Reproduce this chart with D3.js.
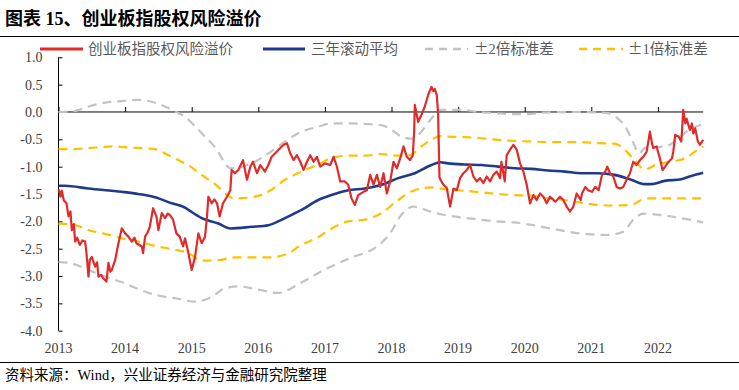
<!DOCTYPE html>
<html><head><meta charset="utf-8">
<script src="https://cdn.jsdelivr.net/npm/d3@7/dist/d3.min.js"></script>
<style>
html,body{margin:0;padding:0;background:#fff;}
svg{display:block;}
</style></head>
<body><svg id="c" width="739" height="390"></svg>
<script>
// ---- data (decimal year, value) ----
const yearTicks = [2013,2014,2015,2016,2017,2018,2019,2020,2021,2022];
const yTicks = [1.0,0.5,0.0,-0.5,-1.0,-1.5,-2.0,-2.5,-3.0,-3.5,-4.0];

const premiumT = [2013.00,2013.01,2013.03,2013.05,2013.08,2013.12,2013.15,2013.18,2013.20,2013.23,2013.25,2013.28,2013.32,2013.36,2013.40,2013.42,2013.45,2013.47,2013.50,2013.55,2013.58,2013.60,2013.64,2013.67,2013.72,2013.75,2013.78,2013.80,2013.85,2013.90,2013.95,2014.00,2014.05,2014.10,2014.14,2014.17,2014.25,2014.27,2014.30,2014.34,2014.37,2014.40,2014.42,2014.45,2014.47,2014.50,2014.55,2014.60,2014.64,2014.67,2014.72,2014.77,2014.82,2014.87,2014.90,2014.95,2015.00,2015.05,2015.10,2015.15,2015.20,2015.23,2015.25,2015.30,2015.34,2015.38,2015.42,2015.47,2015.53,2015.58,2015.60,2015.65,2015.70,2015.77,2015.83,2015.88,2015.92,2015.98,2016.03,2016.10,2016.15,2016.20,2016.25,2016.33,2016.38,2016.43,2016.48,2016.53,2016.58,2016.63,2016.68,2016.73,2016.78,2016.83,2016.88,2016.93,2017.00,2017.08,2017.13,2017.18,2017.23,2017.30,2017.35,2017.40,2017.45,2017.50,2017.58,2017.63,2017.68,2017.73,2017.78,2017.83,2017.88,2017.93,2017.98,2018.03,2018.08,2018.13,2018.18,2018.23,2018.28,2018.32,2018.34,2018.35,2018.40,2018.45,2018.50,2018.55,2018.60,2018.63,2018.65,2018.68,2018.70,2018.72,2018.75,2018.78,2018.83,2018.88,2018.93,2018.98,2019.03,2019.08,2019.13,2019.18,2019.23,2019.28,2019.33,2019.38,2019.43,2019.48,2019.53,2019.58,2019.63,2019.65,2019.70,2019.73,2019.78,2019.83,2019.88,2019.93,2019.98,2020.03,2020.08,2020.13,2020.18,2020.23,2020.28,2020.33,2020.38,2020.46,2020.53,2020.58,2020.63,2020.68,2020.73,2020.78,2020.81,2020.84,2020.86,2020.91,2020.95,2021.01,2021.06,2021.11,2021.16,2021.21,2021.24,2021.28,2021.33,2021.38,2021.43,2021.48,2021.53,2021.58,2021.63,2021.68,2021.73,2021.78,2021.83,2021.86,2021.88,2021.91,2021.93,2021.98,2022.03,2022.07,2022.11,2022.16,2022.21,2022.23,2022.26,2022.31,2022.35,2022.36,2022.38,2022.41,2022.43,2022.48,2022.51,2022.53,2022.56,2022.60,2022.63,2022.68];
const premiumV = [-1.46,-1.43,-1.55,-1.44,-1.62,-1.67,-1.91,-1.82,-2.16,-2.05,-2.37,-2.30,-2.43,-2.35,-2.37,-2.58,-3.01,-2.70,-2.65,-2.83,-2.75,-3.01,-2.98,-3.04,-3.10,-2.76,-2.92,-2.89,-2.71,-2.40,-2.13,-2.22,-2.28,-2.37,-2.30,-2.40,-2.46,-2.58,-2.28,-2.20,-2.10,-1.90,-1.76,-1.85,-1.91,-2.16,-1.85,-1.94,-1.86,-1.88,-1.97,-2.22,-2.28,-2.46,-2.31,-2.58,-2.89,-2.65,-2.22,-2.40,-2.28,-1.91,-1.55,-1.67,-1.60,-1.67,-1.91,-1.67,-1.55,-1.43,-1.06,-1.12,-1.06,-0.88,-1.24,-1.00,-0.91,-1.12,-0.97,-1.09,-0.97,-0.82,-0.76,-0.66,-0.60,-0.57,-0.76,-0.88,-0.79,-0.91,-1.06,-0.91,-0.79,-0.91,-0.82,-1.00,-0.94,-0.97,-0.82,-1.00,-1.27,-1.27,-1.33,-1.58,-1.70,-1.52,-1.46,-1.43,-1.15,-1.33,-1.15,-1.37,-1.12,-1.49,-1.27,-0.91,-1.03,-0.85,-0.63,-0.82,-0.88,-0.79,-0.36,0.13,-0.18,-0.05,0.10,0.31,0.46,0.38,0.42,0.31,-0.05,-1.20,-1.27,-1.33,-1.39,-1.73,-1.40,-1.43,-1.21,-1.12,-1.06,-0.97,-1.18,-1.27,-1.21,-1.30,-1.18,-1.27,-1.15,-1.09,-1.21,-0.91,-1.27,-0.79,-0.69,-0.60,-0.69,-0.94,-1.09,-1.33,-1.67,-1.52,-1.61,-1.49,-1.55,-1.67,-1.55,-1.64,-1.55,-1.61,-1.73,-1.82,-1.73,-1.49,-1.55,-1.61,-1.49,-1.37,-1.43,-1.46,-1.37,-1.43,-1.15,-1.09,-1.00,-1.12,-1.18,-1.37,-1.40,-1.37,-1.24,-1.12,-0.91,-0.97,-0.88,-0.82,-0.73,-0.51,-0.36,-0.57,-0.66,-0.63,-0.85,-1.06,-1.00,-0.91,-0.85,-0.73,-0.42,-0.45,-0.54,-0.39,0.04,-0.21,-0.12,-0.33,-0.21,-0.39,-0.30,-0.54,-0.60,-0.51];

const meanT = [2013.00,2013.10,2013.45,2013.95,2014.20,2014.45,2014.70,2014.90,2014.95,2015.15,2015.40,2015.58,2015.90,2016.15,2016.40,2016.65,2016.90,2017.10,2017.35,2017.60,2017.85,2018.10,2018.35,2018.60,2018.73,2018.85,2019.10,2019.35,2019.60,2019.85,2020.10,2020.35,2020.60,2020.85,2021.10,2021.35,2021.60,2021.80,2021.90,2022.10,2022.35,2022.50,2022.68];
const meanV = [-1.35,-1.35,-1.40,-1.46,-1.50,-1.56,-1.67,-1.75,-1.79,-1.94,-2.04,-2.13,-2.10,-2.07,-1.94,-1.79,-1.61,-1.52,-1.43,-1.40,-1.33,-1.21,-1.12,-0.97,-0.92,-0.94,-0.96,-0.97,-1.00,-1.03,-1.04,-1.07,-1.09,-1.12,-1.12,-1.15,-1.24,-1.32,-1.32,-1.26,-1.23,-1.17,-1.11];

const up1T = [2013.00,2013.25,2013.45,2013.82,2014.07,2014.45,2014.65,2014.80,2014.97,2015.15,2015.40,2015.53,2015.65,2015.90,2016.15,2016.40,2016.65,2016.90,2017.10,2017.35,2017.60,2017.85,2018.10,2018.28,2018.45,2018.60,2018.73,2018.85,2019.10,2019.35,2019.60,2019.85,2020.10,2020.35,2020.85,2021.10,2021.35,2021.50,2021.65,2021.80,2022.00,2022.25,2022.45,2022.55,2022.68];
const up1V = [-0.68,-0.68,-0.66,-0.63,-0.65,-0.68,-0.79,-0.88,-0.99,-1.15,-1.37,-1.52,-1.58,-1.56,-1.46,-1.24,-1.09,-0.96,-0.84,-0.80,-0.80,-0.77,-0.80,-0.79,-0.63,-0.51,-0.44,-0.45,-0.46,-0.48,-0.51,-0.53,-0.54,-0.55,-0.55,-0.57,-0.58,-0.69,-0.88,-1.05,-0.95,-0.90,-0.82,-0.73,-0.63];

const dn1T = [2013.00,2013.25,2013.45,2013.70,2013.95,2014.20,2014.45,2014.70,2014.95,2015.15,2015.40,2015.65,2016.15,2016.40,2016.65,2016.90,2017.10,2017.35,2017.60,2017.85,2018.10,2018.35,2018.60,2018.85,2019.10,2019.35,2019.60,2019.85,2020.10,2020.35,2020.60,2020.85,2021.10,2021.35,2021.60,2021.75,2021.85,2022.10,2022.68];
const dn1V = [-2.04,-2.07,-2.16,-2.23,-2.31,-2.37,-2.45,-2.51,-2.58,-2.72,-2.71,-2.66,-2.66,-2.61,-2.43,-2.29,-2.13,-2.00,-1.97,-1.85,-1.61,-1.43,-1.38,-1.42,-1.44,-1.47,-1.50,-1.52,-1.53,-1.58,-1.61,-1.66,-1.70,-1.71,-1.70,-1.61,-1.58,-1.58,-1.58];

const up2T = [2013.00,2013.25,2013.45,2013.70,2013.95,2014.20,2014.45,2014.70,2014.90,2015.15,2015.40,2015.50,2015.58,2015.77,2015.95,2016.15,2016.40,2016.65,2016.90,2017.10,2017.35,2017.60,2017.85,2018.00,2018.15,2018.30,2018.45,2018.58,2018.73,2019.05,2019.30,2019.55,2019.80,2020.05,2020.30,2020.80,2021.25,2021.40,2021.50,2021.60,2021.72,2021.82,2022.10,2022.30,2022.43,2022.68];
const up2V = [0.00,0.02,0.10,0.17,0.20,0.22,0.17,0.04,-0.09,-0.39,-0.73,-0.94,-1.03,-1.00,-0.91,-0.76,-0.54,-0.36,-0.27,-0.21,-0.21,-0.22,-0.24,-0.33,-0.45,-0.49,-0.36,-0.15,0.04,0.04,0.00,-0.02,-0.04,-0.04,-0.01,0.00,-0.02,-0.12,-0.25,-0.48,-0.75,-0.65,-0.63,-0.50,-0.36,-0.22];

const dn2T = [2013.00,2013.20,2013.45,2013.72,2013.97,2014.22,2014.47,2014.77,2015.05,2015.30,2015.50,2015.70,2016.00,2016.30,2016.63,2016.98,2017.38,2017.78,2017.98,2018.13,2018.33,2018.58,2018.78,2019.13,2019.58,2019.83,2020.13,2020.43,2020.83,2021.23,2021.48,2021.63,2021.78,2022.13,2022.43,2022.68];
const dn2V = [-2.74,-2.77,-2.89,-3.02,-3.12,-3.25,-3.35,-3.41,-3.47,-3.38,-3.22,-3.19,-3.25,-3.31,-3.13,-2.89,-2.67,-2.46,-2.22,-1.91,-1.73,-1.82,-1.88,-1.94,-2.00,-2.02,-2.07,-2.14,-2.22,-2.25,-2.19,-1.97,-1.86,-1.90,-1.96,-2.02];

const legendNames = ["创业板指股权风险溢价","三年滚动平均","±2倍标准差","±1倍标准差"];
const titleText = "图表 15、创业板指股权风险溢价";
const sourceText = "资料来源：Wind，兴业证券经济与金融研究院整理";

// ---- drawing ----
const svg = d3.select("#c");
const serif = "'Liberation Serif','Times New Roman','Noto Sans CJK SC',serif";
const cjk = "'Liberation Serif','Noto Sans CJK SC',sans-serif";
const x = d3.scaleLinear().domain([2013, 2022.68]).range([58.5, 703.2]);
const y = d3.scaleLinear().domain([-4, 1]).range([330.7, 57.3]);

const RED = "#E02B2B", BLUE = "#1F3A8C", GRAY = "#C3C3C3", YEL = "#FFC000";

// title & rules
svg.append("text").attr("x", 5).attr("y", 25).text(titleText)
  .attr("font-family", cjk).attr("font-weight", "bold").attr("font-size", 18).attr("fill", "#000");
svg.append("line").attr("x1", 0).attr("x2", 739).attr("y1", 36.5).attr("y2", 36.5).attr("stroke", "#000").attr("stroke-width", 1);
svg.append("line").attr("x1", 0).attr("x2", 739).attr("y1", 362.5).attr("y2", 362.5).attr("stroke", "#000").attr("stroke-width", 1);
svg.append("text").attr("x", 5).attr("y", 380).text(sourceText)
  .attr("font-family", cjk).attr("font-size", 14.5).attr("fill", "#000");

// y axis
const yAxis = d3.axisLeft(y).tickValues(yTicks).tickSize(-4).tickPadding(16)
  .tickFormat(d => d.toFixed(1));
const ya = svg.append("g").attr("transform", "translate(58.5,0)").call(yAxis);
ya.select(".domain").attr("stroke", "#000").attr("d", `M0,${y(1)}V${y(-4)}`);
ya.selectAll(".tick line").attr("stroke", "#000");
ya.selectAll(".tick text").attr("font-family", serif).attr("font-size", 14).attr("fill", "#404040");

// x axis at zero with upward ticks, labels at bottom
const xa = svg.append("g").attr("transform", `translate(0,${y(0)})`)
  .call(d3.axisBottom(x).tickValues(yearTicks).tickSize(-5).tickFormat(""));
xa.select(".domain").attr("stroke", "#000").attr("d", `M${x(2013)},0H${x(2022.68)}`);
xa.selectAll(".tick line").attr("stroke", "#000");
svg.append("g").selectAll("text").data(yearTicks).join("text")
  .attr("x", d => x(d)).attr("y", 353).attr("text-anchor", "middle")
  .attr("font-family", serif).attr("font-size", 14).attr("fill", "#404040").text(d => d);

// series
function pts(T, V){ return T.map((t,i)=>[t, V[i]]); }
const smooth = d3.line().x(d => x(d[0])).y(d => y(d[1])).curve(d3.curveMonotoneX);
const line = d3.line().x(d => x(d[0])).y(d => y(d[1]));
const dash = "9,6";
[[up2T,up2V],[dn2T,dn2V]].forEach(s => svg.append("path").attr("d", smooth(pts(s[0], s[1])))
  .attr("fill","none").attr("stroke", GRAY).attr("stroke-width", 2.2).attr("stroke-dasharray", dash));
[[up1T,up1V],[dn1T,dn1V]].forEach(s => svg.append("path").attr("d", smooth(pts(s[0], s[1])))
  .attr("fill","none").attr("stroke", YEL).attr("stroke-width", 2.2).attr("stroke-dasharray", dash));
svg.append("path").attr("d", smooth(pts(meanT, meanV))).attr("fill","none").attr("stroke", BLUE).attr("stroke-width", 2.6);
svg.append("path").attr("d", line(pts(premiumT, premiumV))).attr("fill","none").attr("stroke", RED)
  .attr("stroke-width", 2.2).attr("stroke-linejoin","round");

// legend
const leg = [
  {x1:40, x2:83, tx:88, color:RED, dash:null, w:3},
  {x1:263, x2:305, tx:311, color:BLUE, dash:null, w:3},
  {x1:425, x2:468, tx:474, color:GRAY, dash:"8,6", w:2.5},
  {x1:579, x2:623, tx:628, color:YEL, dash:"8,6", w:2.5}
];
leg.forEach((l,i) => {
  const ln = svg.append("line").attr("x1", l.x1).attr("x2", l.x2).attr("y1", 49).attr("y2", 49)
    .attr("stroke", l.color).attr("stroke-width", l.w);
  if (l.dash) ln.attr("stroke-dasharray", l.dash);
  const name = legendNames[i];
  const t = svg.append("text").attr("x", l.tx).attr("y", 54)
    .attr("font-family", cjk).attr("font-size", 14.5).attr("fill", "#595959");
  if (name.startsWith("±")) {
    t.append("tspan").attr("font-family", "'Noto Sans CJK SC',sans-serif").text("±");
    t.append("tspan").text(name.slice(1));
  } else {
    t.text(name);
  }
});
</script></body></html>
